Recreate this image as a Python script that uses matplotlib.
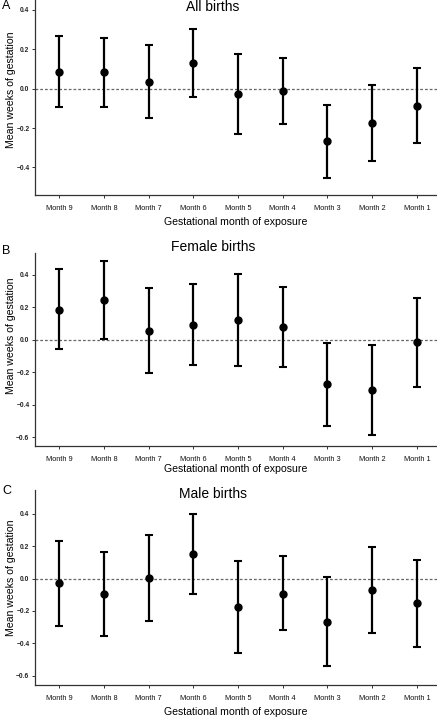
import matplotlib.pyplot as plt
import numpy as np

months = ['Month 9', 'Month 8', 'Month 7', 'Month 6', 'Month 5',
          'Month 4', 'Month 3', 'Month 2', 'Month 1']

# All births
all_mean = [0.084, 0.084, 0.033, 0.129, -0.029, -0.012, -0.267, -0.175, -0.086]
all_lo = [-0.094, -0.091, -0.150, -0.045, -0.229, -0.180, -0.453, -0.365, -0.276]
all_hi = [0.265, 0.258, 0.220, 0.304, 0.174, 0.153, -0.081, 0.017, 0.104]

# Female births
fem_mean = [0.185, 0.244, 0.053, 0.092, 0.121, 0.076, -0.275, -0.310, -0.016]
fem_lo = [-0.057, 0.004, -0.203, -0.154, -0.162, -0.168, -0.530, -0.587, -0.290]
fem_hi = [0.433, 0.483, 0.318, 0.345, 0.407, 0.322, -0.021, -0.033, 0.257]

# Male births
male_mean = [-0.029, -0.095, 0.002, 0.153, -0.175, -0.093, -0.266, -0.070, -0.153]
male_lo = [-0.291, -0.355, -0.260, -0.093, -0.458, -0.320, -0.540, -0.334, -0.423]
male_hi = [0.233, 0.163, 0.268, 0.400, 0.107, 0.140, 0.010, 0.194, 0.115]

plt.rcParams['font.family'] = ['Liberation Sans', 'DejaVu Sans']

W, H = 437, 717
fig = plt.figure(figsize=(W / 100, H / 100), dpi=100)

# letter, title, data, axes top/bottom (px), ylim, yticks, title y, letter y,
# xlabel pad, ylabel centre (axes frac)
panels = [
    ('A', 'All births', all_mean, all_lo, all_hi, 0, 195, (-0.54, 0.45),
     [-0.4, -0.2, 0.0, 0.2, 0.4], 7, 6, 4, 0.54),
    ('B', 'Female births', fem_mean, fem_lo, fem_hi, 253, 446, (-0.655, 0.534),
     [-0.6, -0.4, -0.2, 0.0, 0.2, 0.4], 247, 251, 1, 0.57),
    ('C', 'Male births', male_mean, male_lo, male_hi, 490, 685, (-0.658, 0.548),
     [-0.6, -0.4, -0.2, 0.0, 0.2, 0.4], 494, 491, 4, 0.55),
]

x = np.arange(len(months))
for letter, title, mean, lo, hi, top, bot, ylim, yt, ty, ly, xpad, yly in panels:
    ax = fig.add_axes([35 / W, 1 - bot / H, (W - 35) / W, (bot - top) / H])
    mean = np.array(mean)
    err = [mean - np.array(lo), np.array(hi) - mean]
    ax.axhline(0, color='#666666', ls='--', lw=0.9, dashes=(2.2, 1.6), zorder=1)
    ax.errorbar(x, mean, yerr=err, fmt='o', color='black', ms=5, lw=1.6,
                capsize=3, capthick=1.5, zorder=3)
    ax.set_xlim(-0.54, 8.45)
    ax.set_ylim(*ylim)
    ax.set_yticks(yt)
    ax.set_yticklabels(['\u22120.%d' % abs(round(v * 10)) if v < 0 else '%.1f' % v for v in yt])
    ax.set_xticks(x)
    ax.set_xticklabels(months)
    for s in ['top', 'right']:
        ax.spines[s].set_visible(False)
    for s in ['left', 'bottom']:
        ax.spines[s].set_color('#333333')
        ax.spines[s].set_linewidth(0.9)
    ax.tick_params(axis='both', length=2, width=0.7, color='#333333', pad=2)
    for lab in ax.get_yticklabels():
        lab.set_fontsize(4.8)
        lab.set_fontweight('bold')
        lab.set_color('#222222')
    for lab in ax.get_xticklabels():
        lab.set_fontsize(5.3)
        lab.set_family(['Liberation Sans Narrow', 'Liberation Sans'])
        lab.set_color('#111111')
    ax.tick_params(axis='x', pad=5)
    ax.set_xlabel('Gestational month of exposure', fontsize=7.6, labelpad=xpad)
    ax.set_ylabel('Mean weeks of gestation', fontsize=7.6)
    ax.yaxis.set_label_coords(-0.048, yly)
    fig.text(213 / W, 1 - ty / H, title, fontsize=10, ha='center', va='center')
    fig.text(2 / W, 1 - ly / H, letter, fontsize=9, ha='left', va='center')

fig.savefig('out.png', dpi=100)
